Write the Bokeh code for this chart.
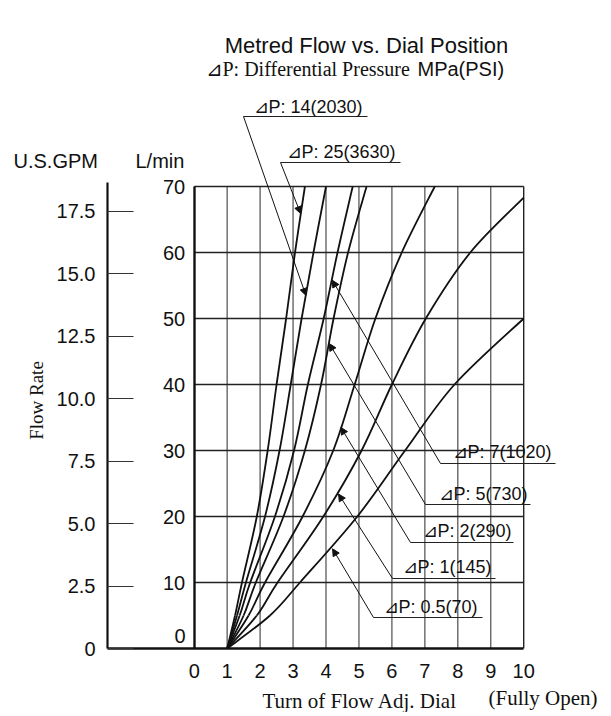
import math
from bokeh.plotting import figure
from bokeh.models import (Range1d, LinearAxis, FixedTicker, Label, Arrow,
                          NormalHead)
from bokeh.embed import file_html
from bokeh.resources import INLINE

LPM_PER_GPM = 3.78541

# ---------------- data ----------------
dial_ticks = [0, 1, 2, 3, 4, 5, 6, 7, 8, 9, 10]
dial_grid = [1, 2, 3, 4, 5, 6, 7, 8, 9, 10]
flow_ticks = [10, 20, 30, 40, 50, 60, 70]
gpm_ticks = [0, 2.5, 5.0, 7.5, 10.0, 12.5, 15.0, 17.5]
gpm_labels = ["0", "2.5", "5.0", "7.5", "10.0", "12.5", "15.0", "17.5"]

flow_main = [0, 5, 10, 20, 30, 40, 50, 60, 70]
dial_p25 = [1.0, 1.24, 1.45, 1.90, 2.23, 2.50, 2.79, 3.06, 3.36]
dial_p14 = [1.0, 1.30, 1.57, 2.15, 2.59, 2.93, 3.26, 3.62, 4.00]
dial_p7 = [1.0, 1.38, 1.70, 2.45, 3.03, 3.45, 3.93, 4.35, 4.81]
dial_p5 = [1.0, 1.50, 1.87, 2.71, 3.36, 3.85, 4.23, 4.67, 5.23]
dial_p2 = [1.0, 1.65, 2.15, 3.29, 4.22, 4.87, 5.50, 6.30, 7.30]
flow_p1 = [0, 5, 10, 20, 30, 40, 50, 60, 68.3]
dial_p1 = [1.0, 1.90, 2.53, 3.92, 5.08, 6.00, 7.03, 8.38, 10.0]
flow_p05 = [0, 5, 10, 20, 30, 40, 50]
dial_p05 = [1.0, 2.30, 3.21, 4.95, 6.40, 7.90, 10.0]

series_names = ["⊿P: 25(3630)", "⊿P: 14(2030)", "⊿P: 7(1020)", "⊿P: 5(730)",
                "⊿P: 2(290)", "⊿P: 1(145)", "⊿P: 0.5(70)"]
series_dials = [dial_p25, dial_p14, dial_p7, dial_p5, dial_p2, dial_p1, dial_p05]
series_flows = [flow_main, flow_main, flow_main, flow_main, flow_main, flow_p1, flow_p05]

# where each callout arrow touches its curve (dial, L/min)
tip_dial = [3.23, 3.39, 4.19, 4.10, 4.45, 4.38, 4.20]
tip_flow = [65.9, 53.5, 55.8, 46.2, 33.5, 23.4, 15.1]

# ---------------- layout ----------------
W, H = 603, 712
X0, XS = 193.7, 32.95      # page x of dial 0, px per dial turn
Y0, YS = 648.0, 6.6        # page y of 0 L/min, px per L/min
OFF = 0                    # page offset of the canvas


def DX(px):
    return (px - X0) / XS


def DY(py):
    return (Y0 - py) / YS


x_start, x_end = DX(OFF), DX(OFF + W)
y_start, y_end = DY(OFF + H), DY(OFF)

p = figure(width=W, height=H, x_range=Range1d(x_start, x_end),
           y_range=Range1d(y_start, y_end), x_axis_type=None, y_axis_type=None,
           output_backend="svg", toolbar_location=None, title=None,
           min_border=0, min_border_left=0, min_border_right=0,
           min_border_top=0, min_border_bottom=0)
p.outline_line_color = None
p.background_fill_color = "white"
p.border_fill_color = "white"
p.extra_y_ranges = {"gpm": Range1d(y_start / LPM_PER_GPM, y_end / LPM_PER_GPM)}

SANS = "Liberation Sans"
SERIF = "Liberation Serif"

# grid (inside 0..10 turns, 0..70 L/min)
p.segment(x0=dial_grid[:-1], y0=[0] * (len(dial_grid) - 1), x1=dial_grid[:-1],
          y1=[flow_ticks[-1]] * (len(dial_grid) - 1), line_color="#5a5a5a", line_width=1.3)
p.segment(x0=[dial_grid[-1]], y0=[0], x1=[dial_grid[-1]], y1=[flow_ticks[-1]],
          line_color="#222222", line_width=1.4)
p.segment(x0=[0] * len(flow_ticks), y0=flow_ticks, x1=[dial_ticks[-1]] * len(flow_ticks),
          y1=flow_ticks, line_color="#222222", line_width=1.3)


# curves: smooth Catmull-Rom path through the read points, drawn as cubic Beziers
def smooth_segments(xs, ys):
    n = len(xs)
    out = {k: [] for k in ("x0", "y0", "x1", "y1", "cx0", "cy0", "cx1", "cy1")}
    for i in range(n - 1):
        xm, ym = (xs[i - 1], ys[i - 1]) if i > 0 else (xs[i], ys[i])
        xp, yp = (xs[i + 2], ys[i + 2]) if i + 2 < n else (xs[i + 1], ys[i + 1])
        out["x0"].append(xs[i]); out["y0"].append(ys[i])
        out["x1"].append(xs[i + 1]); out["y1"].append(ys[i + 1])
        out["cx0"].append(xs[i] + (xs[i + 1] - xm) / 6.0)
        out["cy0"].append(ys[i] + (ys[i + 1] - ym) / 6.0)
        out["cx1"].append(xs[i + 1] - (xp - xs[i]) / 6.0)
        out["cy1"].append(ys[i + 1] - (yp - ys[i]) / 6.0)
    return out


for dl, fl in zip(series_dials, series_flows):
    seg = smooth_segments(dl, fl)
    p.bezier(line_color="#111111", line_width=1.8, **seg)

# axes
xax = LinearAxis(fixed_location=0, ticker=FixedTicker(ticks=dial_ticks),
                 bounds=(DX(107), 10))
xax.axis_line_width = 2.4
xax.axis_line_color = "#111111"
xax.major_tick_in = 0
xax.major_tick_out = 0
xax.minor_tick_in = 0
xax.minor_tick_out = 0
xax.major_label_standoff = 15
xax.major_label_text_font = SANS
xax.major_label_text_font_size = "20px"
xax.major_label_text_color = "#111111"
p.add_layout(xax, "below")

lax = LinearAxis(fixed_location=0, ticker=FixedTicker(ticks=flow_ticks),
                 bounds=(0, 70))
lax.axis_line_width = 2.4
lax.axis_line_color = "#111111"
lax.major_tick_in = 0
lax.major_tick_out = 0
lax.minor_tick_in = 0
lax.minor_tick_out = 0
lax.major_label_standoff = 9
lax.major_label_text_font = SANS
lax.major_label_text_font_size = "20px"
lax.major_label_text_color = "#111111"
p.add_layout(lax, "left")

gax = LinearAxis(y_range_name="gpm", fixed_location=DX(107),
                 ticker=FixedTicker(ticks=gpm_ticks),
                 bounds=(0, DY(182) / LPM_PER_GPM))
gax.axis_line_width = 2.2
gax.axis_line_color = "#111111"
gax.major_tick_in = 26
gax.major_tick_out = 0
gax.major_tick_line_color = "#333333"
gax.major_tick_line_width = 1.2
gax.minor_tick_in = 0
gax.minor_tick_out = 0
gax.major_label_standoff = 12
gax.major_label_overrides = dict(zip(gpm_ticks, gpm_labels))
gax.major_label_text_font = SANS
gax.major_label_text_font_size = "20px"
gax.major_label_text_color = "#111111"
p.add_layout(gax, "left")


def add_text(txt, px, py, size, font=SANS, align="left", angle=0.0):
    """px = anchor x on the page, py = vertical centre of the text on the page"""
    p.add_layout(Label(x=DX(px), y=DY(py), text=txt, text_font=font,
                       text_font_size=size, text_align=align,
                       text_baseline="middle", text_color="#111111",
                       angle=angle))


# L/min zero label (sits above the base line)
add_text("0", 185, 635, "20px", align="right")

# headers, titles
add_text("Metred Flow vs. Dial Position", 366, 45, "22px", align="center")
add_text("⊿P: Differential Pressure", 205, 68, "20px", font=SERIF)
add_text("MPa(PSI)", 417, 68, "20px")
add_text("U.S.GPM", 13, 160, "20px")
add_text("L/min", 135, 160, "20px")
add_text("Flow Rate", 36, 400, "19px", font=SERIF, align="center", angle=math.pi / 2)
add_text("Turn of Flow Adj. Dial", 262, 700, "21px", font=SERIF)
add_text("(Fully Open)", 488, 697, "21px", font=SERIF)

# callouts: text left, text centre y, underline y, underline x0 (leader end), underline x1
call_text_x = [286, 253, 452, 438, 422, 402, 383]
call_text_y = [151.5, 106.7, 451.7, 493, 530, 566.3, 606.3]
call_line_y = [162, 116, 463, 504, 542, 578, 617]
call_line_x0 = [280, 243, 440, 425, 410, 392, 373]
call_line_x1 = [400, 367, 555, 530, 513, 495, 482]

for i, name in enumerate(series_names):
    add_text(name, call_text_x[i], call_text_y[i], "18px")
    p.segment(x0=[DX(call_line_x0[i])], y0=[DY(call_line_y[i])],
              x1=[DX(call_line_x1[i])], y1=[DY(call_line_y[i])],
              line_color="#222222", line_width=1.1)
    p.add_layout(Arrow(x_start=DX(call_line_x0[i]), y_start=DY(call_line_y[i]),
                       x_end=tip_dial[i], y_end=tip_flow[i],
                       line_color="#111111", line_width=1.0,
                       end=NormalHead(size=7, fill_color="#111111",
                                      line_color="#111111", line_width=1)))

open("out.html", "w").write(file_html(p, INLINE))
